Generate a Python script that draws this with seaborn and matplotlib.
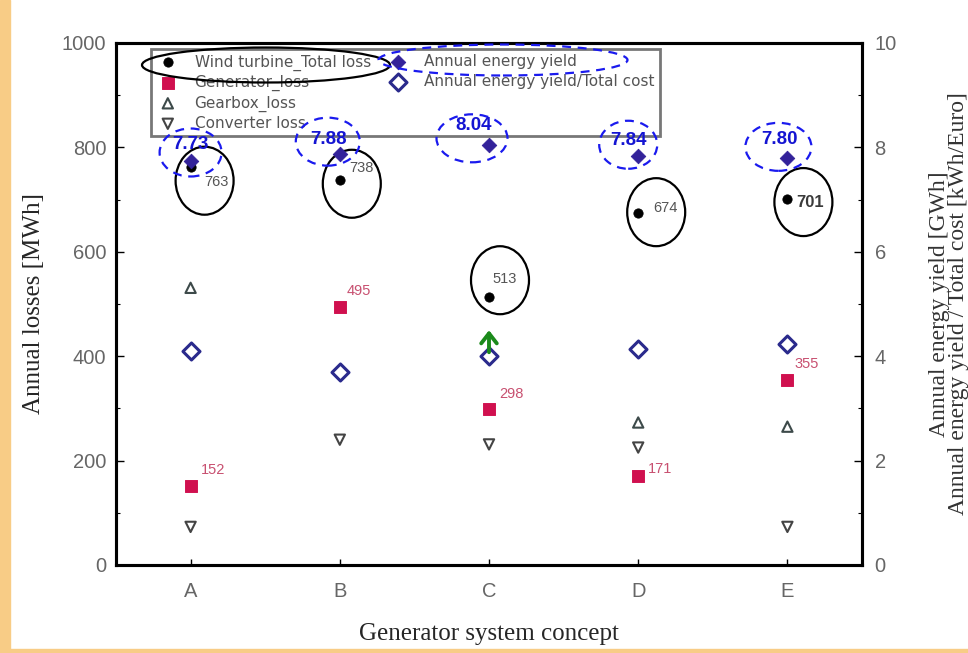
import matplotlib
matplotlib.use("Agg")
import matplotlib.pyplot as plt
import matplotlib.transforms as mtransforms
from matplotlib.patches import Ellipse, Rectangle
from matplotlib.lines import Line2D
import numpy as np
import pandas as pd
import seaborn as sns

# ── data ──────────────────────────────────────────────────────────────────────
concepts = ["A", "B", "C", "D", "E"]
total_loss = [763, 738, 513, 674, 701]            # MWh
generator_loss = [152, 495, 298, 171, 355]        # MWh
gearbox_loss = [531, np.nan, np.nan, 273, 265]    # MWh, no gearbox in B / C
converter_loss = [73, 240, 231, 225, 73]          # MWh
energy_yield = [7.73, 7.88, 8.04, 7.84, 7.80]     # GWh
yield_per_cost = [4.10, 3.69, 4.00, 4.13, 4.23]   # kWh/Euro

# pixel offsets of the value labels (text, relative to the point)
total_lbl_off = [(26, -15), (22, 12), (16, 18), (27, 5), (23, -3)]
gen_lbl_off = [(22, 16), (19, 16), (22, 15), (22, 7), (19, 16)]
yield_lbl_off = [(0, 17), (-11, 14), (-15, 20), (-10, 15), (-8, 18)]
# ellipse centre offsets (pixels) and sizes
total_ring_off = [(14, -14), (12, -4), (11, 17), (18, 1), (16, -3)]
yield_ring_off = [(0, 9), (-12, 12), (-17, 7), (-10, 11), (-9, 11)]
yield_ring_w = [62, 64, 71, 58, 66]

sns.set_style("ticks")
plt.rcParams["font.family"] = ["Liberation Sans", "DejaVu Sans"]

fig = plt.figure(figsize=(9.68, 6.53), dpi=100)
W, H = 968, 653
ax = fig.add_axes([116 / W, (H - 565) / H, (862 - 116) / W, (565 - 43) / H])
ax2 = ax.twinx()

# orange page border
fig.patches.append(Rectangle((0, 0), 10 / W, 1, transform=fig.transFigure,
                             color="#F8CC86", zorder=0))
fig.patches.append(Rectangle((0, 0), 1, 4 / H, transform=fig.transFigure,
                             color="#F8CC86", zorder=0))

df = pd.DataFrame({
    "concept": concepts,
    "total": total_loss,
    "generator": generator_loss,
    "gearbox": gearbox_loss,
    "converter": converter_loss,
    "yield": energy_yield,
    "ratio": yield_per_cost,
})

sns.scatterplot(data=df, x="concept", y="total", ax=ax, marker="o", s=45,
                color="black", edgecolor="black", label="Wind turbine_Total loss",
                legend=False, zorder=4)
sns.scatterplot(data=df, x="concept", y="generator", ax=ax, marker="s", s=70,
                color="#D0104F", edgecolor="#D0104F", label="Generator_loss",
                legend=False, zorder=4)
sns.scatterplot(data=df.dropna(subset=["gearbox"]), x="concept", y="gearbox", ax=ax,
                marker="^", s=55, facecolor="none", edgecolor="#3d4a4a",
                linewidth=1.5, label="Gearbox_loss", legend=False, zorder=4)
sns.scatterplot(data=df, x="concept", y="converter", ax=ax, marker="v", s=55,
                facecolor="none", edgecolor="#444444", linewidth=1.5,
                label="Converter loss", legend=False, zorder=4)

sns.scatterplot(data=df, x="concept", y="yield", ax=ax2, marker="D", s=55,
                color="#33229a", edgecolor="#33229a", label="Annual energy yield",
                legend=False, zorder=4)
sns.scatterplot(data=df, x="concept", y="ratio", ax=ax2, marker="D", s=75,
                facecolor="white", edgecolor="#2a2a8c", linewidth=2.2,
                label="Annual energy yield/Total cost", legend=False, zorder=4)

# axes cosmetics
ax.set_xlim(-0.5, 4.5)
ax.set_ylim(0, 1000)
ax2.set_ylim(0, 10)
ax.set_yticks(np.arange(0, 1001, 200))
ax.set_yticks(np.arange(100, 1000, 200), minor=True)
ax2.set_yticks(np.arange(0, 11, 2))
ax2.set_yticks(np.arange(1, 10, 2), minor=True)

for a in (ax, ax2):
    for sp in a.spines.values():
        sp.set_linewidth(2.2)
        sp.set_color("black")
    a.tick_params(which="both", direction="in", colors="black", labelcolor="#666666",
                  labelsize=14.5)
    a.tick_params(which="major", length=6, width=1)
    a.tick_params(which="minor", length=3, width=0.8)
ax.tick_params(axis="y", pad=7)
ax2.tick_params(axis="y", pad=9)
ax.tick_params(axis="x", length=4, pad=12)

serif = ["Liberation Serif", "DejaVu Serif"]
ax.set_xlabel("Generator system concept", family=serif, fontsize=18, labelpad=16)
ax.set_ylabel("Annual losses [MWh]", family=serif, fontsize=18, labelpad=12)
ax2.set_ylabel("Annual energy yield [GWh]\nAnnual energy yield / Total cost [kWh/Euro]",
               family=serif, fontsize=17, labelpad=23, rotation=90,
               multialignment="center", linespacing=0.9, color="#333333")


def ring(axis, i, v, off, w, h, **kw):
    tr = mtransforms.ScaledTranslation(i, v, axis.transData)
    e = Ellipse(off, w, h, transform=tr, fill=False, clip_on=False, zorder=6, **kw)
    axis.add_artist(e)


for i, c in enumerate(concepts):
    # total loss labels + black rings
    big = c == "E"
    ax.annotate(str(total_loss[i]), (c, total_loss[i]), xytext=total_lbl_off[i],
                textcoords="offset pixels", ha="center", va="center",
                fontsize=12 if big else 10.5, color="#3a3a3a" if big else "#555555",
                fontweight="bold" if big else "normal")
    ring(ax, i, total_loss[i], total_ring_off[i], 58, 68, edgecolor="black", lw=1.6)
    # generator labels
    ax.annotate(str(generator_loss[i]), (c, generator_loss[i]), xytext=gen_lbl_off[i],
                textcoords="offset pixels", ha="center", va="center",
                fontsize=10.5, color="#c85070")
    # yield labels + dashed blue rings
    ax2.annotate(f"{energy_yield[i]:.2f}", (c, energy_yield[i]), xytext=yield_lbl_off[i],
                 textcoords="offset pixels", ha="center", va="center",
                 fontsize=13.5, fontweight="bold", color="#1414d2", zorder=7)
    ring(ax2, i, energy_yield[i], yield_ring_off[i], yield_ring_w[i], 48,
         edgecolor="#1a1aee", lw=1.6, linestyle=(0, (4, 3)))

# green arrow just above concept C's yield/cost marker
ci = concepts.index("C")
head = mtransforms.offset_copy(ax2.transData, fig=fig, x=0, y=26, units="dots")
tail = mtransforms.offset_copy(ax2.transData, fig=fig, x=0, y=4, units="dots")
ax2.annotate("", xy=(ci, yield_per_cost[ci]), xycoords=head,
             xytext=(ci, yield_per_cost[ci]), textcoords=tail,
             arrowprops=dict(arrowstyle="->,head_length=0.45,head_width=0.35",
                             color="#1b8a1b", lw=2.8, mutation_scale=16,
                             shrinkA=0, shrinkB=0),
             annotation_clip=False, zorder=8)

# legend: 4 loss entries in the first column, 2 yield entries in the second
h1, l1 = ax.get_legend_handles_labels()
h2, l2 = ax2.get_legend_handles_labels()
blank = Line2D([], [], linestyle="none", marker=None)
handles = h1 + h2 + [blank, blank]
labels = l1 + l2 + ["", ""]
leg = ax2.legend(handles, labels, ncol=2, loc="upper left",
                 bbox_to_anchor=(151 / W, 1 - 49 / H), bbox_transform=fig.transFigure,
                 borderaxespad=0, frameon=True, fancybox=False,
                 prop={"family": "DejaVu Sans", "size": 11},
                 labelcolor="#555555", handlelength=1.5, handletextpad=1.0,
                 columnspacing=1.0, labelspacing=0.28, borderpad=0.35)
leg.get_frame().set_edgecolor("#555555")
leg.get_frame().set_linewidth(2)
leg.set_zorder(5)

# highlight rings inside the legend (figure pixels)
fig.patches.append(Ellipse((266, H - 65), 248, 35, transform=None, fill=False,
                           edgecolor="black", lw=1.6, zorder=10))
fig.patches.append(Ellipse((503, H - 60), 249, 31, transform=None, fill=False,
                           edgecolor="#1a1aee", lw=1.6, linestyle=(0, (4, 3)), zorder=10))

fig.savefig("out.png", dpi=100)
